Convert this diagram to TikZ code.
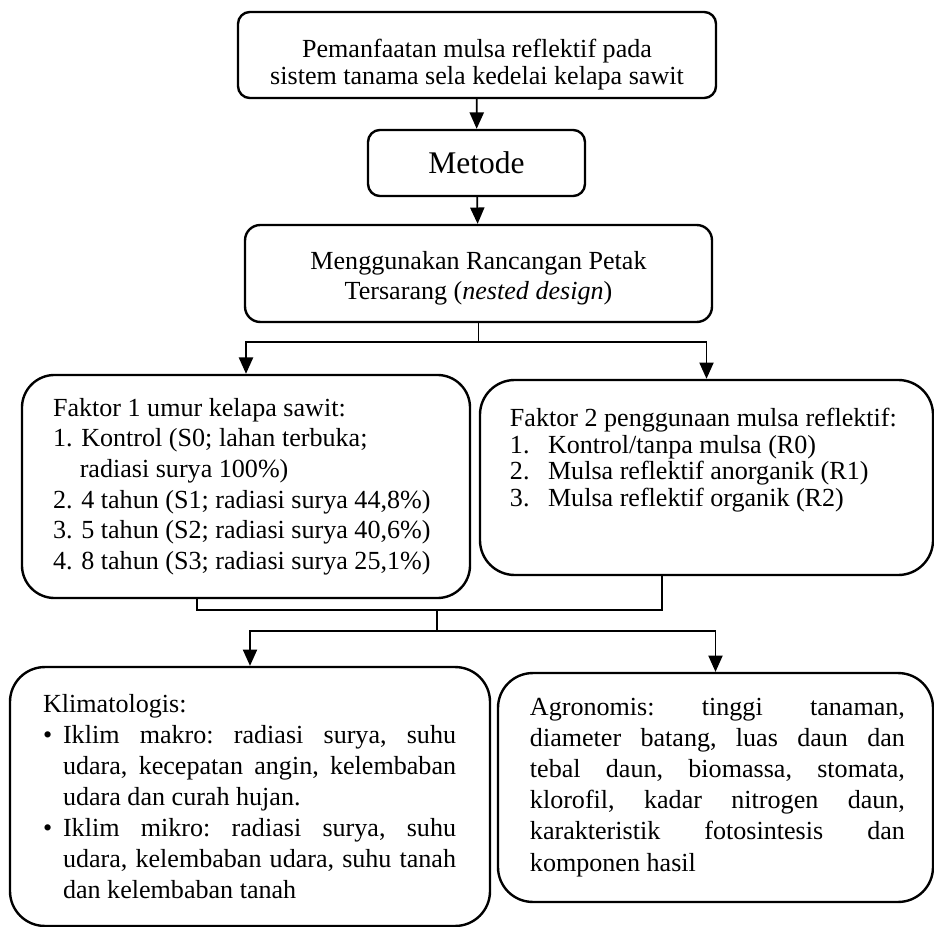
\documentclass[tikz,border=0pt]{standalone}
\usepackage{fontspec}
\setmainfont{Liberation Serif}
\usetikzlibrary{arrows.meta}

% isi kotak: lebar kotak, tinggi kotak, geser kiri, lebar teks, teks
\newcommand{\isikotak}[5]{%
  \begin{minipage}[c][#2][c]{#1}\hspace*{#3}\begin{minipage}{#4}\frenchspacing#5\end{minipage}\end{minipage}}

\tikzset{
  kotak/.style={draw=black, line width=1.1pt, rounded corners=#1, inner sep=0pt},
  kotak/.default=5.5pt,
  panah/.style={-{Triangle[length=7.5pt,width=6.5pt]}, line width=0.8pt},
  garis/.style={line width=0.8pt}
}

\begin{document}
\begin{tikzpicture}[x=0.46pt, y=-0.46pt]
\useasboundingbox (0,0) rectangle (934,927);

\node[kotak](judul) at (477,55) {\isikotak{219.9pt}{39.6pt}{0pt}{219.9pt}{%
  \centering\fontsize{12}{12.6}\selectfont
  \vspace*{9pt}Pemanfaatan mulsa reflektif pada\\sistem tanama sela kedelai kelapa sawit\par}};
\node[kotak, minimum width=99.8pt, minimum height=30.4pt, font=\fontsize{14.5}{17}\selectfont](metode) at (476.5,163) {Metode};
\node[kotak=7pt](rancangan) at (478.5,273.5) {\isikotak{214.8pt}{44.6pt}{0pt}{214.8pt}{%
  \centering\fontsize{12}{13.8}\selectfont
  \vspace*{4.5pt}Menggunakan Rancangan Petak\\Tersarang (\textit{nested design})\par}};

\node[kotak=15pt](faktor1) at (246,486.5) {\isikotak{206.1pt}{102.6pt}{14.3pt}{188.6pt}{%
  \fontsize{12}{14.1}\selectfont\nonfrenchspacing
  Faktor 1 umur kelapa sawit:\\
  1. Kontrol (S0; lahan terbuka;\\
  \hspace*{12.3pt}radiasi surya 100\%)\\
  2. 4 tahun (S1; radiasi surya 44,8\%)\\
  3. 5 tahun (S2; radiasi surya 40,6\%)\\
  4. 8 tahun (S3; radiasi surya 25,1\%)}};
\node[kotak=16pt](faktor2) at (706.5,477.5) {\isikotak{208.4pt}{89.7pt}{13.8pt}{184pt}{%
  \fontsize{12}{12.4}\selectfont
  Faktor 2 penggunaan mulsa reflektif:\\
  \makebox[17.5pt][l]{1.}Kontrol/tanpa mulsa (R0)\\
  \makebox[17.5pt][l]{2.}Mulsa reflektif anorganik (R1)\\
  \makebox[17.5pt][l]{3.}Mulsa reflektif organik (R2)\par\vspace{16pt}}};

\node[kotak=16pt](klimat) at (250,796.5) {\isikotak{220.8pt}{119.1pt}{15.2pt}{190pt}{%
  \fontsize{12}{14.3}\selectfont
  Klimatologis:\par
  \hangindent=9.2pt\hangafter=1\makebox[9.2pt][l]{\textbullet}Iklim makro: radiasi surya, suhu \linebreak udara, kecepatan angin, kelembaban \linebreak udara dan curah hujan.\par
  \hangindent=9.2pt\hangafter=1\makebox[9.2pt][l]{\textbullet}Iklim mikro: radiasi surya, suhu \linebreak udara, kelembaban udara, suhu tanah \linebreak dan kelembaban tanah\par}};
\node[kotak=16pt](agro) at (715.5,787.5) {\isikotak{200.1pt}{105.3pt}{14.7pt}{172.5pt}{%
  \fontsize{12}{14.3}\selectfont
  Agronomis: tinggi tanaman, \linebreak diameter batang, luas daun dan \linebreak tebal daun, biomassa, stomata, \linebreak klorofil, kadar nitrogen daun, \linebreak karakteristik fotosintesis dan \linebreak komponen hasil\par}};

\coordinate (cabang1) at (478.5,342);
\coordinate (gabung) at (437,610);
\coordinate (cabang2) at (437,631);

\draw[panah] (judul) -- (metode);
\draw[panah] (metode) -- (rancangan);
\draw[garis] (rancangan.south) -- (cabang1);
\draw[panah] (cabang1) -| (faktor1.north);
\draw[panah] (cabang1) -| (faktor2.north);
\draw[garis] ([xshift=-22.5pt]faktor1.south) |- (gabung) -| ([xshift=-20.5pt]faktor2.south);
\draw[garis] (gabung) -- (cabang2);
\draw[panah] (cabang2) -| (klimat.north);
\draw[panah] (cabang2) -| (agro.north);
\end{tikzpicture}
\end{document}
